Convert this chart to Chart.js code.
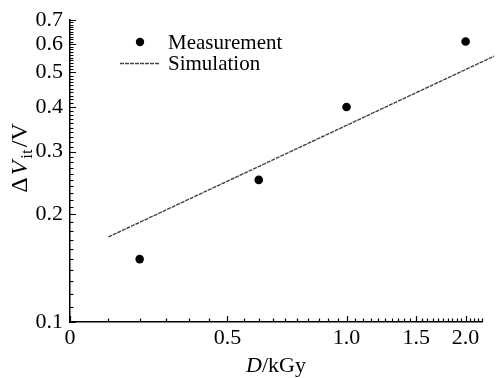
<!DOCTYPE html>
<html><head><meta charset="utf-8">
<script src="https://cdn.jsdelivr.net/npm/chart.js@4/dist/chart.umd.min.js"></script>
<style>html,body{margin:0;padding:0;background:#fff;}#wrap{width:496px;height:378px;}</style>
</head><body><div id="wrap"><canvas id="c" width="496" height="378"></canvas></div>
<script>
// ---- data ----
const doseTicks = [0.2, 0.5, 1.0, 1.5, 2.0];
const doseTickLabels = ['0', '0.5', '1.0', '1.5', '2.0'];
const dvTicks = [0.1, 0.2, 0.3, 0.4, 0.5, 0.6, 0.7];
const dvTickLabels = ['0.1', '0.2', '0.3', '0.4', '0.5', '0.6', '0.7'];
const measDose = [0.3, 0.6, 1.0, 2.0];
const measDV = [0.15, 0.25, 0.40, 0.61];
const simDose = [0.25, 2.36];
const simDV = [0.173, 0.555];

const FONT = 'Liberation Serif';

const inwardTicks = {
  id: 'inwardTicks',
  afterDraw(chart) {
    const ctx = chart.ctx, xs = chart.scales.x, ys = chart.scales.y;
    const a = chart.chartArea;
    ctx.save();
    ctx.strokeStyle = '#000';
    ctx.lineWidth = 1.2;
    ctx.beginPath();
    for (let k = 10; k <= 70; k++) {
      const v = k / 100;
      const p = Math.round(ys.getPixelForValue(v)) + 0.5;
      const len = (k % 10 === 0) ? 6 : 3.5;
      ctx.moveTo(a.left, p); ctx.lineTo(a.left + len, p);
    }
    for (let k = 4; k <= 44; k++) {
      const v = k / 20;
      const p = Math.round(xs.getPixelForValue(v)) + 0.5;
      const major = doseTicks.some(t => Math.abs(t - v) < 1e-9);
      const len = major ? 6 : 3.5;
      ctx.moveTo(p, a.bottom); ctx.lineTo(p, a.bottom - len);
    }
    ctx.stroke();
    ctx.restore();
  }
};

const titlesAndLegend = {
  id: 'titlesAndLegend',
  afterDraw(chart) {
    const ctx = chart.ctx, a = chart.chartArea;
    ctx.save();
    ctx.fillStyle = '#000';
    ctx.textBaseline = 'middle';
    // x title: D/kGy
    const f = 22;
    ctx.font = `italic ${f}px "${FONT}"`;
    const wD = ctx.measureText('D').width;
    ctx.font = `${f}px "${FONT}"`;
    const wR = ctx.measureText('/kGy').width;
    let x0 = 276 - (wD + wR) / 2;
    const yT = 366;
    ctx.font = `italic ${f}px "${FONT}"`;
    ctx.textAlign = 'left';
    ctx.fillText('D', x0, yT);
    ctx.font = `${f}px "${FONT}"`;
    ctx.fillText('/kGy', x0 + wD, yT);

    // y title: ΔV_it/V rotated
    const fy = 24;
    ctx.save();
    ctx.translate(21, 158);
    ctx.rotate(-Math.PI / 2);
    const parts = [
      {t: 'Δ', font: `${fy}px "${FONT}"`, dy: 0},
      {t: 'V', font: `italic ${fy}px "${FONT}"`, dy: 0},
      {t: 'it', font: `${Math.round(fy * 0.7)}px "${FONT}"`, dy: 7},
      {t: '/V', font: `${fy}px "${FONT}"`, dy: 0}
    ];
    let total = 0;
    parts.forEach(p => { ctx.font = p.font; p.w = ctx.measureText(p.t).width; total += p.w; });
    total += 6;
    let cx = -total / 2;
    parts.forEach(p => { ctx.font = p.font; ctx.fillText(p.t, cx, p.dy); cx += p.w + 2; });
    ctx.restore();

    // legend
    const ds = chart.data.datasets;
    ctx.font = `21px "${FONT}"`;
    ctx.fillStyle = '#000';
    ctx.beginPath();
    ctx.arc(140, 42, 4.2, 0, Math.PI * 2);
    ctx.fill();
    ctx.fillText(ds[0].label, 168, 43);
    ctx.strokeStyle = ds[1].borderColor;
    ctx.lineWidth = ds[1].borderWidth;
    ctx.setLineDash(ds[1].borderDash);
    ctx.beginPath();
    ctx.moveTo(120, 63.5); ctx.lineTo(160, 63.5);
    ctx.stroke();
    ctx.setLineDash([]);
    ctx.fillText(ds[1].label, 168, 64);
    ctx.restore();
  }
};

const tickFont = {family: FONT, size: 22};

new Chart(document.getElementById('c'), {
  type: 'scatter',
  data: {
    datasets: [
      {
        label: 'Measurement',
        data: measDose.map((d, i) => ({x: d, y: measDV[i]})),
        pointRadius: 4.3,
        pointBackgroundColor: '#000',
        pointBorderColor: '#000',
        pointBorderWidth: 0,
        showLine: false
      },
      {
        label: 'Simulation',
        data: simDose.map((d, i) => ({x: d, y: simDV[i]})),
        showLine: true,
        pointRadius: 0,
        borderColor: '#444',
        borderWidth: 1.4,
        borderDash: [4, 1],
        clip: false
      }
    ]
  },
  options: {
    responsive: false,
    animation: false,
    devicePixelRatio: 1,
    layout: {padding: {left: 0, right: 14, top: 16, bottom: 0}},
    plugins: {legend: {display: false}, tooltip: {enabled: false}},
    scales: {
      x: {
        type: 'logarithmic',
        min: 0.2, max: 2.2,
        bounds: 'data',
        afterBuildTicks(s) { s.ticks = doseTicks.map(v => ({value: v, major: true})); },
        afterFit(s) { s.height = 56; },
        grid: {display: true, drawOnChartArea: false, drawTicks: false},
        border: {display: true, color: '#000', width: 1.5},
        ticks: {
          autoSkip: false, maxRotation: 0, minRotation: 0, padding: 3,
          color: '#000', font: tickFont,
          callback: (v, i) => doseTickLabels[i]
        }
      },
      y: {
        type: 'logarithmic',
        min: 0.1, max: 0.7,
        bounds: 'data',
        afterBuildTicks(s) { s.ticks = dvTicks.map(v => ({value: v, major: true})); },
        afterFit(s) { s.width = 70; },
        grid: {display: true, drawOnChartArea: false, drawTicks: false},
        border: {display: true, color: '#000', width: 1.5},
        ticks: {
          autoSkip: false, padding: 7,
          color: '#000', font: tickFont,
          callback: (v, i) => dvTickLabels[i]
        }
      }
    }
  },
  plugins: [inwardTicks, titlesAndLegend]
});
</script>
</body></html>
